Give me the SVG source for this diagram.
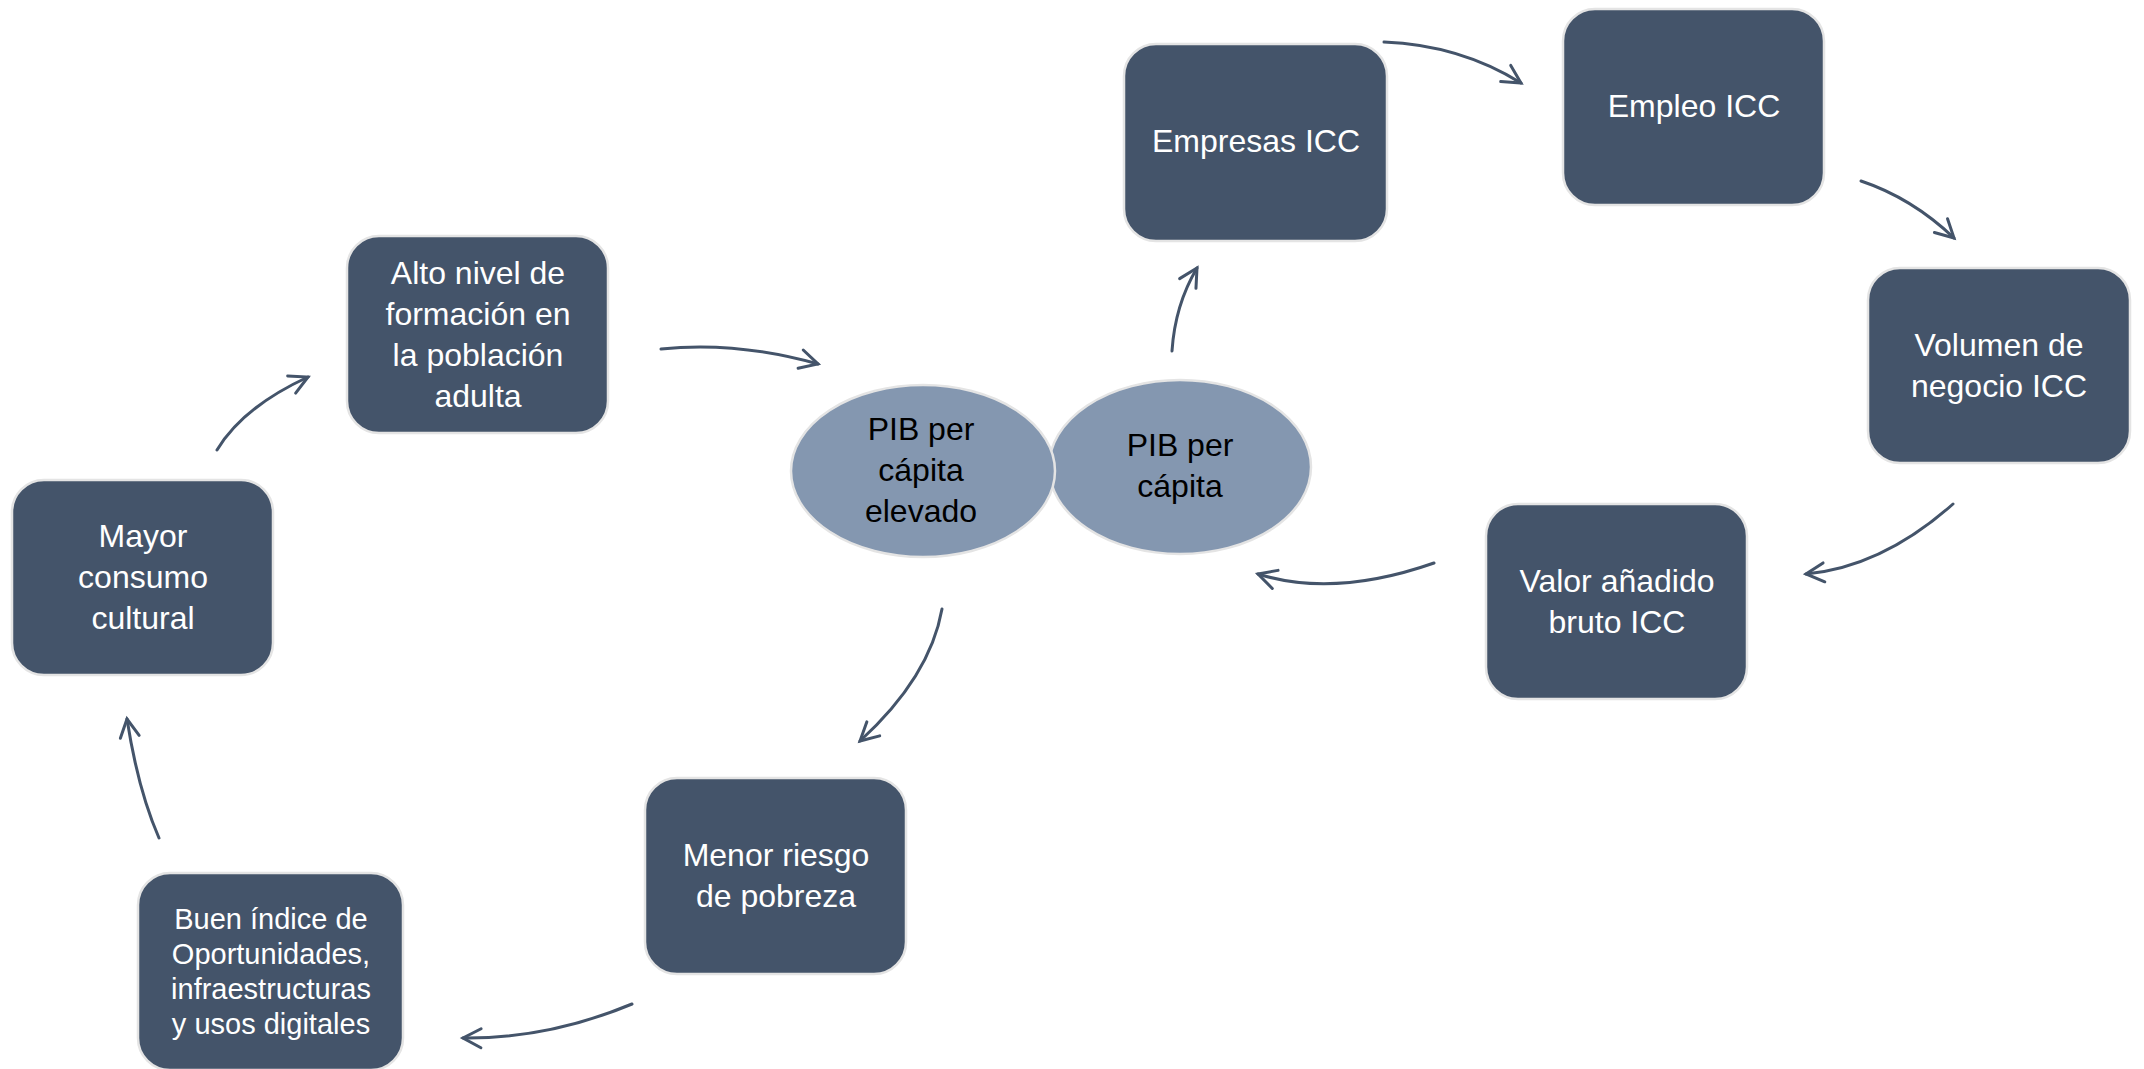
<svg xmlns="http://www.w3.org/2000/svg" width="2144" height="1069" viewBox="0 0 2144 1069">
<style>
.box{fill:#44546A;stroke:#E4E4E4;stroke-width:2.5}
.ell{fill:#8497B0;stroke:#E4E4E4;stroke-width:2.5}
.t{font-family:"Liberation Sans",Arial,sans-serif;font-size:32px;fill:#FFFFFF;text-anchor:middle}
.ts{font-size:29px}
.tk{fill:#000000}
.c{fill:none;stroke:#44546A;stroke-width:3;stroke-linecap:round}
</style>
<defs>
<marker id="ah" markerUnits="userSpaceOnUse" markerWidth="40" markerHeight="40" refX="0" refY="0" viewBox="-25 -20 30 40" orient="auto" overflow="visible">
<path d="M-18,-9.5 L0,0 L-18,9.5" fill="none" stroke="#44546A" stroke-width="3" stroke-linecap="round" stroke-linejoin="miter"/>
</marker>
</defs>
<rect width="2144" height="1069" fill="#FFFFFF"/>
<g id="connectors">
<path class="c" d="M1384,42 Q1460,45 1521,83" marker-end="url(#ah)"/>
<path class="c" d="M1861,181 Q1912,198 1954,238" marker-end="url(#ah)"/>
<path class="c" d="M1953,504 Q1882,567 1806,574" marker-end="url(#ah)"/>
<path class="c" d="M1434,563 Q1334,598 1258,574" marker-end="url(#ah)"/>
<path class="c" d="M1172,351 Q1175,305 1197,268" marker-end="url(#ah)"/>
<path class="c" d="M661,349 Q736,341 818,364" marker-end="url(#ah)"/>
<path class="c" d="M217,450 Q243,407 308,377" marker-end="url(#ah)"/>
<path class="c" d="M159,838 Q138,790 127,719" marker-end="url(#ah)"/>
<path class="c" d="M942,609 Q930,677 860,741" marker-end="url(#ah)"/>
<path class="c" d="M632,1004 Q548,1039 463,1038" marker-end="url(#ah)"/>
</g>
<g id="pib">
<ellipse class="ell" cx="1180" cy="467" rx="131" ry="87"/>
<text class="t tk" x="1180" y="456">PIB per</text>
<text class="t tk" x="1180" y="497">cápita</text>
</g>
<g id="pib-elevado">
<ellipse class="ell" cx="923" cy="471" rx="132" ry="86"/>
<text class="t tk" x="921" y="440">PIB per</text>
<text class="t tk" x="921" y="481">cápita</text>
<text class="t tk" x="921" y="522">elevado</text>
</g>
<g id="empresas">
<rect class="box" x="1124" y="44" width="263" height="197" rx="32"/>
<text class="t" x="1256" y="152">Empresas ICC</text>
</g>
<g id="empleo">
<rect class="box" x="1563" y="9" width="261" height="196" rx="32"/>
<text class="t" x="1694" y="117">Empleo ICC</text>
</g>
<g id="volumen">
<rect class="box" x="1868" y="268" width="262" height="195" rx="32"/>
<text class="t" x="1999" y="356">Volumen de</text>
<text class="t" x="1999" y="397">negocio ICC</text>
</g>
<g id="valor">
<rect class="box" x="1486" y="504" width="261" height="195" rx="32"/>
<text class="t" x="1617" y="592">Valor añadido</text>
<text class="t" x="1617" y="633">bruto ICC</text>
</g>
<g id="alto">
<rect class="box" x="347" y="236" width="261" height="197" rx="32"/>
<text class="t" x="478" y="284">Alto nivel de</text>
<text class="t" x="478" y="325">formación en</text>
<text class="t" x="478" y="366">la población</text>
<text class="t" x="478" y="407">adulta</text>
</g>
<g id="mayor">
<rect class="box" x="12" y="480" width="261" height="195" rx="32"/>
<text class="t" x="143" y="547">Mayor</text>
<text class="t" x="143" y="588">consumo</text>
<text class="t" x="143" y="629">cultural</text>
</g>
<g id="menor">
<rect class="box" x="645" y="778" width="261" height="196" rx="32"/>
<text class="t" x="776" y="866">Menor riesgo</text>
<text class="t" x="776" y="907">de pobreza</text>
</g>
<g id="buen">
<rect class="box" x="138" y="873" width="265" height="197" rx="32"/>
<text class="t ts" x="271" y="929">Buen índice de</text>
<text class="t ts" x="271" y="964">Oportunidades,</text>
<text class="t ts" x="271" y="999">infraestructuras</text>
<text class="t ts" x="271" y="1034">y usos digitales</text>
</g>
</svg>
